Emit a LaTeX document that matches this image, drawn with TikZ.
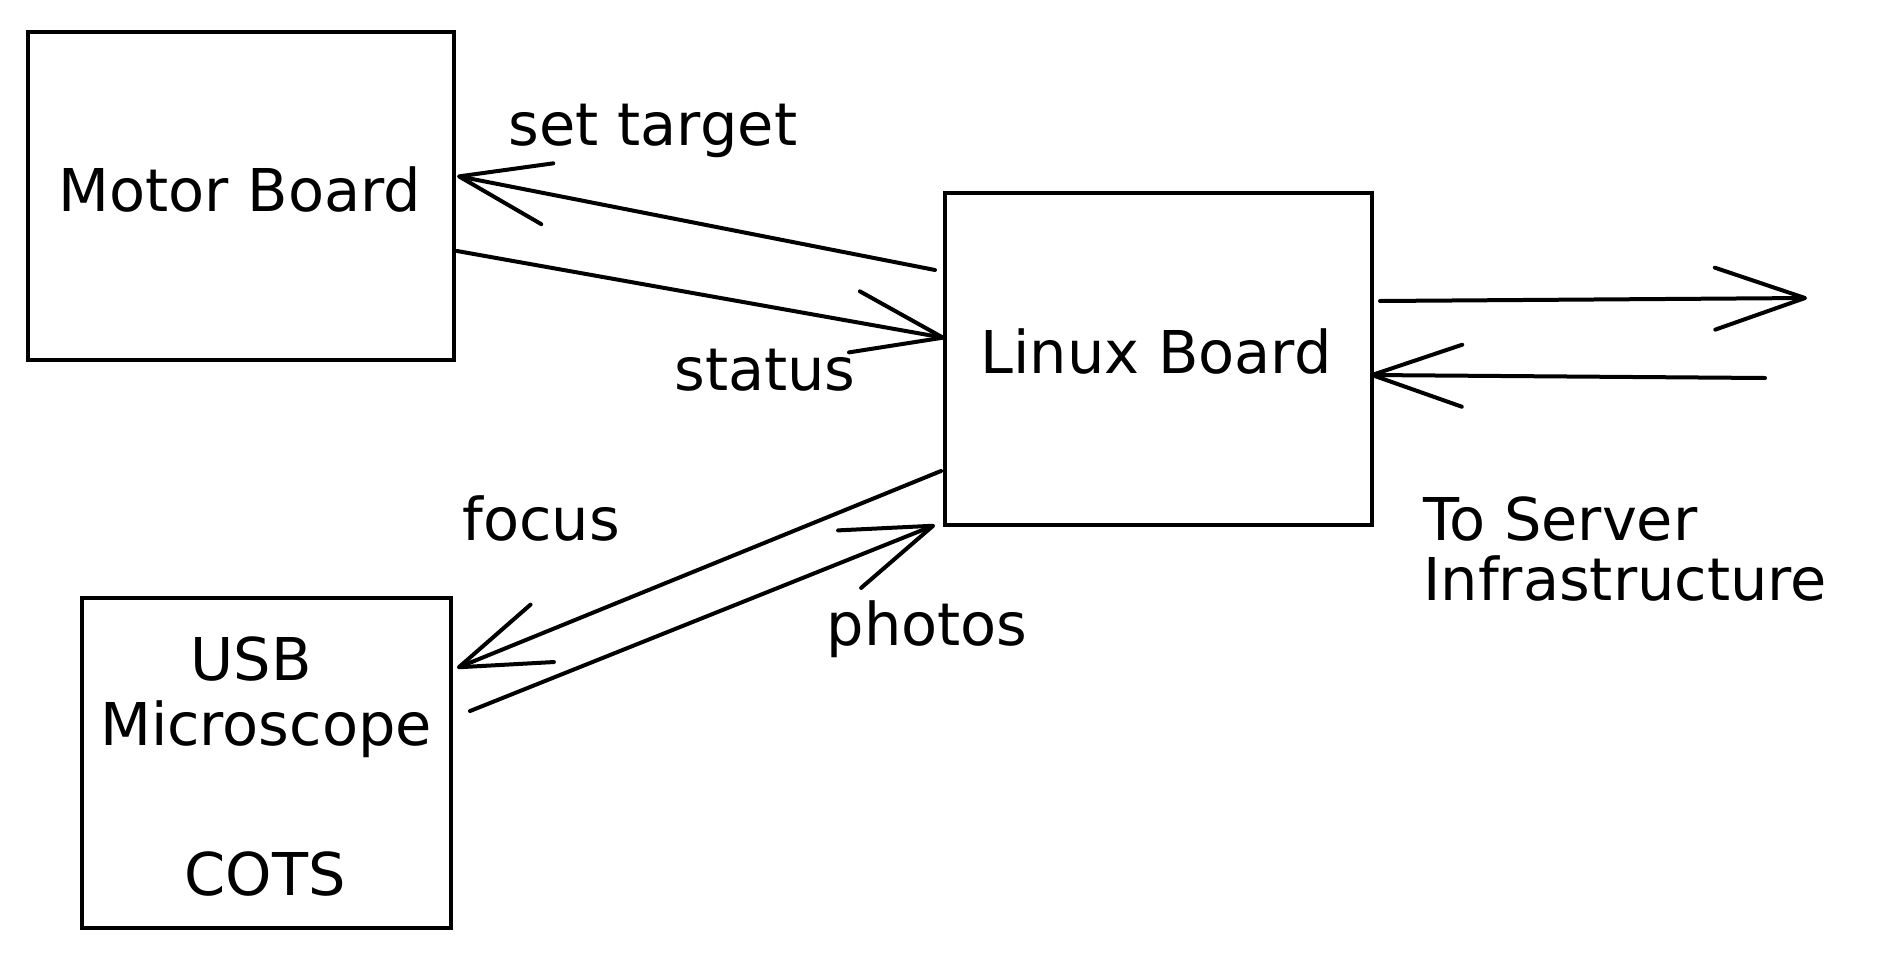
\documentclass[tikz,border=0pt]{standalone}
\usepackage{fontspec}
\setmainfont{DejaVu Sans}
\usetikzlibrary{arrows.meta}
\begin{document}
\begin{tikzpicture}[x=1pt,y=-1pt,
  boxstyle/.style={draw=black, line width=4pt, inner sep=0pt, rectangle},
  lbl/.style={font=\fontsize{59}{70}\selectfont, inner sep=0pt, anchor=base},
  lblw/.style={font=\fontsize{59}{70}\selectfont, inner sep=0pt, anchor=base west},
  arr/.style={line width=4pt, line cap=round, -{Straight Barb[length=90pt,width=62pt,round]}}
]
\fill[white] (0,0) rectangle (1897,961);
\useasboundingbox (0,0) rectangle (1897,961);

% boxes
\node[boxstyle, minimum width=426pt, minimum height=328pt] (motor) at (241,196) {};
\node[boxstyle, minimum width=427pt, minimum height=332pt] (lin) at (1158.5,359) {};
\node[boxstyle, minimum width=369pt, minimum height=330pt] (usb) at (266.5,763) {};

% box labels
\node[lbl] (motorlbl) at (240,211) {Motor Board};
\node[lbl] (linlbl) at (1156,373) {Linux Board};
\node[lbl] (usb1) at (251,680) {USB};
\node[lbl] (usb2) at (266,745) {Microscope};
\node[lbl] (usb3) at (265,895) {COTS};

% connector labels
\node[lbl] (settarget) at (653,145) {set target};
\node[lbl] (status) at (765,390) {status};
\node[lbl] (focus) at (541,540) {focus};
\node[lbl] (photos) at (927,645) {photos};
\node[lblw] (srv1) at (1423,540) {To Server};
\node[lblw] (srv2) at (1423,600) {Infrastructure};

% free ends
\coordinate (srvout) at (1807,298);
\coordinate (srvin) at (1765,378);

% connectors
\draw[arr] ([xshift=-8pt,yshift=-79pt]lin.north west) -- ([xshift=1pt,yshift=-146pt]motor.north east);
\draw[arr] ([xshift=1pt,yshift=-221pt]motor.north east) -- ([xshift=2pt,yshift=-147pt]lin.north west);
\draw[arr] ([xshift=-2pt,yshift=-280pt]lin.north west) -- ([xshift=4pt,yshift=-72pt]usb.north east);
\draw[arr] ([xshift=17pt,yshift=-115pt]usb.north east) -- ([xshift=-8pt,yshift=2pt]lin.south west);
\draw[arr] ([xshift=6pt,yshift=-110pt]lin.north east) -- (srvout);
\draw[arr] (srvin) -- ([xshift=-4pt,yshift=-184pt]lin.north east);
\end{tikzpicture}
\end{document}
